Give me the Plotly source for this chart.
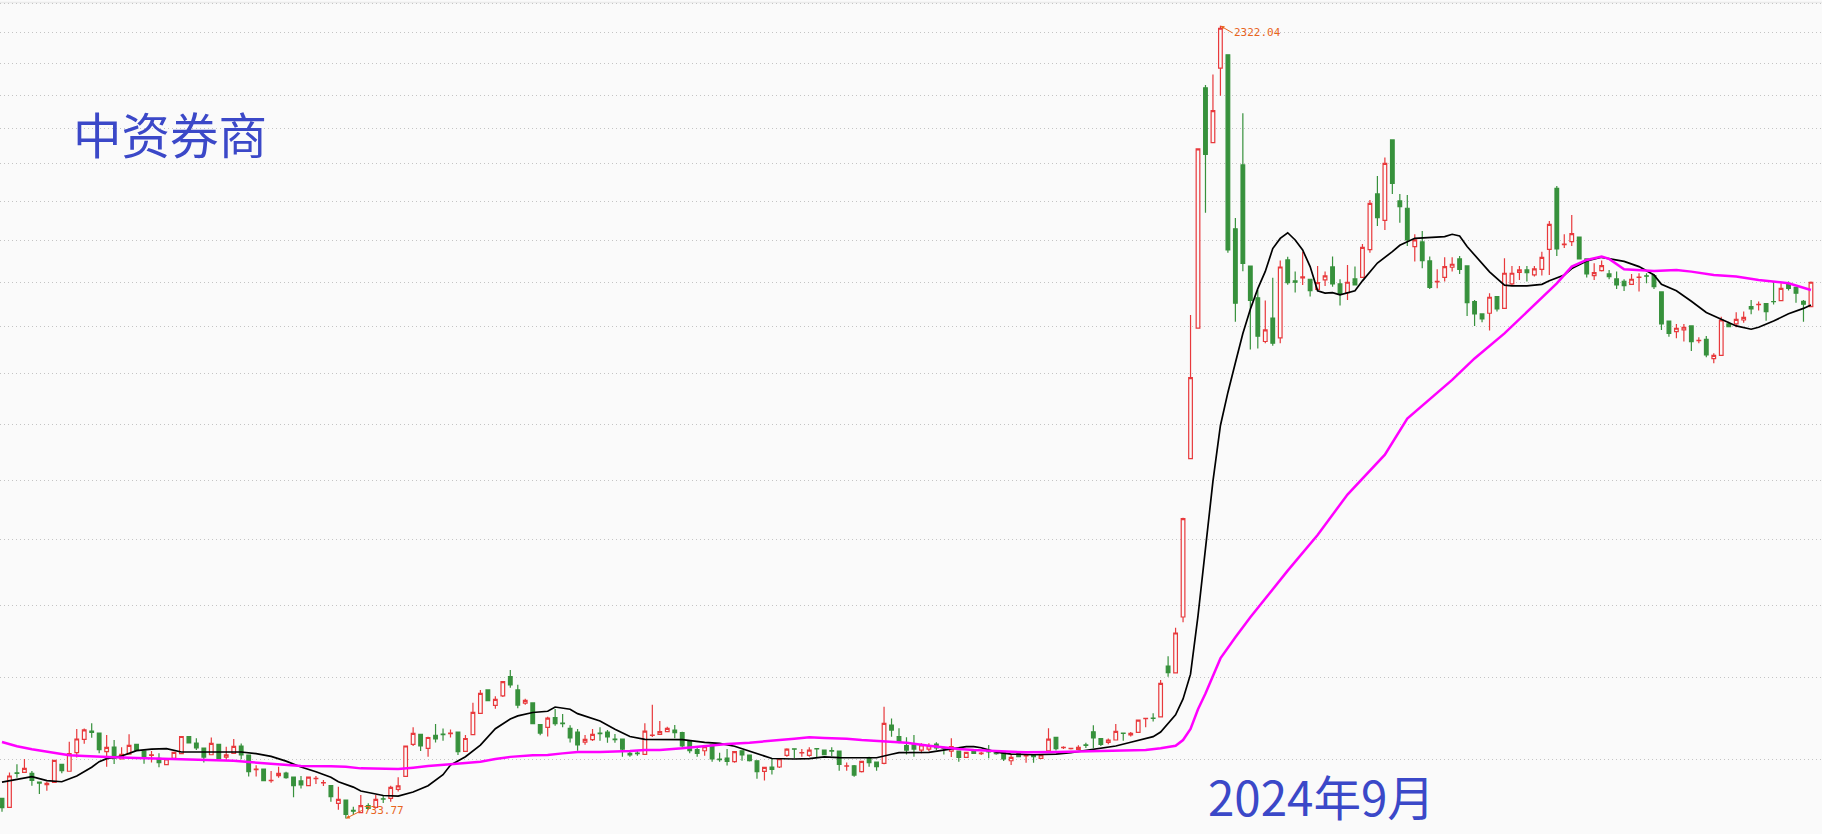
import math
import plotly.graph_objects as go

# ---- data ----
opens = [755.5,745.8,784.2,784.6,783.5,773.7,770.7,773.3,793.8,785.9,807.4,823.2,833.1,830.8,808.6,814.1,800.0,805.8,817.3,809.4,
804.3,800.8,793.4,800.8,806.2,826.6,818.7,812.9,805.0,817.3,802.3,806.6,815.3,804.7,787.7,788.5,775.3,780.9,783.9,779.3,
774.9,769.6,777.5,772.7,769.6,750.1,753.7,742.5,740.0,747.6,745.8,755.1,755.5,765.5,780.1,817.3,829.2,812.5,828.0,829.6,
830.0,831.9,809.0,828.8,854.9,884.5,864.9,876.9,901.8,884.5,867.7,868.0,840.9,837.7,849.5,842.9,836.5,831.9,819.9,822.8,
830.6,831.9,823.4,823.6,806.6,806.8,805.4,827.8,829.2,832.4,834.4,831.2,821.6,810.9,809.7,816.5,799.8,801.2,796.9,809.7,
804.7,798.0,785.8,790.8,790.8,804.3,811.9,807.2,804.3,812.3,810.5,809.9,809.3,791.7,792.2,785.4,801.5,796.5,795.0,840.5,
826.4,815.7,816.5,810.5,811.7,817.6,812.9,809.3,809.3,801.9,809.3,806.4,808.8,806.8,807.4,798.0,806.2,803.7,804.7,800.8,
809.5,825.5,813.3,812.1,811.3,816.5,832.3,824.2,819.5,822.4,830.6,828.4,831.5,848.4,849.0,850.6,915.8,906.7,983.4,1238.0,
1496.4,2122.0,1959.7,2183.8,2226.5,1729.0,1897.2,1637.9,1563.8,1467.7,1518.6,1475.6,1652.4,1602.8,1609.8,1606.7,1583.4,1605.1,1635.7,1595.7,
1575.8,1607.5,1611.3,1677.4,1818.7,1750.4,1967.2,1800.3,1781.3,1684.8,1696.2,1650.0,1600.4,1611.3,1634.9,1654.8,1638.1,1555.3,1527.7,1529.2,
1566.7,1540.3,1595.7,1623.0,1628.5,1616.8,1630.1,1678.2,1833.7,1689.5,1697.0,1708.5,1654.8,1615.2,1626.9,1619.1,1607.5,1602.0,1594.9,1611.0,
1614.8,1615.2,1577.3,1512.1,1488.9,1492.6,1501.3,1469.6,1472.4,1431.7,1438.6,1505.6,1505.6,1514.3,1544.1,1548.3,1550.8,1555.6,1557.6,1595.7,
1588.0,1556.0,1544.1]
highs = [756.0,784.6,793.8,800.0,786.2,774.0,774.1,798.5,793.8,820.4,835.7,836.2,842.6,830.8,828.4,822.4,813.7,829.2,817.3,809.4,
809.4,806.6,800.0,807.8,826.6,826.6,824.6,812.9,825.4,817.3,814.5,823.6,818.3,804.7,792.7,788.5,786.2,791.1,785.4,779.3,
780.5,779.3,780.5,776.0,769.6,768.5,753.7,746.5,759.3,750.1,759.3,758.9,769.6,779.0,815.3,837.7,829.2,826.2,841.8,836.2,
835.0,831.9,828.4,868.2,884.5,884.5,876.5,895.2,910.5,891.3,873.3,868.0,840.9,850.6,860.2,854.1,840.1,835.7,828.4,835.7,
837.7,834.5,829.6,823.6,810.5,810.5,842.6,865.7,845.4,838.5,840.5,832.4,821.6,815.3,816.5,816.5,807.4,811.7,808.6,809.7,
804.7,798.0,790.4,800.8,800.4,812.5,811.9,811.7,813.7,812.5,810.5,813.7,809.3,796.1,793.0,798.0,802.7,797.0,863.2,848.6,
836.5,825.6,828.4,818.4,818.4,819.6,814.5,824.4,809.3,807.8,809.3,808.6,816.5,808.0,807.4,805.8,806.2,806.0,804.7,804.7,
836.7,826.0,814.9,813.0,816.1,819.1,840.1,824.2,824.2,841.8,831.1,832.0,846.6,848.8,854.9,897.4,929.0,968.2,1136.0,1525.6,
1942.0,2130.6,2163.6,2322.04,2226.5,1756.0,2045.0,1638.0,1582.0,1557.9,1610.3,1650.8,1660.0,1624.6,1672.5,1606.7,1638.1,1624.6,1660.4,1606.7,
1640.5,1636.5,1691.3,1802.9,1866.9,1917.4,1967.2,1818.7,1816.1,1715.2,1723.5,1660.4,1630.1,1658.8,1658.8,1662.0,1638.1,1559.0,1527.7,1574.3,
1566.7,1656.4,1638.1,1638.1,1638.1,1638.1,1672.5,1748.7,1839.9,1715.2,1764.1,1708.5,1654.8,1644.5,1650.8,1628.5,1624.6,1606.7,1619.1,1620.7,
1620.7,1619.1,1577.3,1512.1,1505.6,1505.6,1501.3,1476.7,1479.5,1442.7,1521.7,1510.7,1531.4,1532.9,1559.1,1555.3,1550.8,1601.2,1597.3,1601.2,
1589.5,1559.1,1601.2]
lows = [741.0,745.0,778.6,784.6,769.6,760.3,764.0,773.0,783.5,785.9,801.9,817.9,825.0,806.6,791.1,794.2,800.0,805.8,810.5,794.6,
796.1,790.4,793.4,800.8,806.2,819.1,810.5,796.1,805.0,800.8,798.8,806.6,799.6,779.8,779.8,775.2,772.9,778.6,777.5,756.7,
766.4,769.6,771.5,769.3,751.9,743.0,733.77,737.6,740.0,743.0,745.8,750.4,751.9,763.0,780.0,815.3,809.4,802.7,819.5,821.6,
825.4,804.7,809.0,828.8,854.9,870.7,860.6,875.6,887.4,861.4,865.8,842.2,828.0,826.6,839.7,837.7,819.5,809.7,816.9,821.2,
821.6,819.1,819.1,802.7,802.7,803.9,805.0,826.0,829.0,831.6,824.4,812.5,806.6,802.7,803.9,796.9,796.9,792.6,795.7,798.0,
797.0,777.3,775.3,782.3,789.6,802.7,800.8,802.7,802.7,802.0,804.3,803.5,786.5,786.5,779.7,784.6,791.1,786.5,793.8,826.4,
818.4,805.4,802.7,806.6,809.0,810.5,805.4,802.3,796.9,801.9,806.0,804.7,800.8,805.0,797.7,793.0,802.7,795.7,795.7,800.8,
809.0,810.0,811.7,811.0,811.0,812.9,812.5,815.3,817.3,822.4,821.6,826.6,831.5,837.7,844.8,850.6,901.7,906.7,975.8,1238.0,
1496.0,1769.5,1959.7,2098.0,1670.0,1510.4,1625.4,1450.7,1453.0,1464.2,1458.8,1464.2,1594.0,1575.8,1593.4,1566.7,1583.0,1591.1,1589.5,1546.3,
1559.1,1593.0,1611.0,1670.0,1736.1,1726.0,1818.7,1744.5,1686.4,1648.5,1632.5,1584.2,1585.7,1601.2,1624.6,1619.1,1523.2,1501.3,1509.2,1491.1,
1532.9,1540.0,1591.1,1605.1,1601.2,1612.9,1615.2,1616.8,1662.0,1681.5,1686.4,1654.8,1610.5,1605.1,1624.6,1606.7,1584.2,1579.6,1593.4,1578.1,
1597.3,1584.2,1492.6,1478.1,1474.6,1467.5,1447.7,1464.0,1434.4,1422.0,1438.6,1498.4,1498.4,1508.5,1527.0,1535.2,1512.9,1548.9,1557.6,1580.4,
1553.0,1510.7,1544.1]
closes = [745.4,780.5,783.5,789.2,775.6,772.5,772.2,798.5,786.6,806.2,823.6,834.5,831.5,810.9,813.7,800.8,805.4,816.1,810.5,802.3,
805.0,795.7,800.0,807.8,826.6,819.1,812.9,802.3,818.3,800.8,805.0,814.9,804.7,785.4,788.5,775.2,775.5,783.5,778.6,769.6,
770.4,779.3,777.9,773.0,757.4,754.4,738.2,741.5,747.6,744.7,754.4,754.7,767.8,769.3,815.3,830.4,815.3,825.4,823.6,828.8,
830.6,808.6,824.2,856.1,880.2,870.7,872.4,895.2,890.9,865.3,871.1,842.2,830.8,849.1,842.2,842.2,825.0,816.5,823.2,829.2,
830.0,826.2,822.8,811.7,804.7,806.3,833.1,828.4,832.4,836.5,831.2,815.3,809.7,806.6,814.5,800.0,799.4,797.3,808.6,804.7,
798.0,785.4,790.4,788.0,800.4,811.7,811.5,807.6,810.5,811.9,805.0,809.3,793.8,792.1,781.6,797.3,795.7,791.1,842.6,834.4,
820.4,810.5,811.7,816.5,815.7,812.9,812.5,814.5,801.9,807.8,806.6,806.8,808.4,806.4,800.0,802.0,802.7,804.1,802.7,804.7,
823.4,812.0,813.7,812.5,813.7,816.1,825.0,817.3,822.4,832.7,830.2,830.4,846.6,848.8,848.5,893.1,906.9,960.8,1134.6,1392.5,
1941.9,1926.7,2053.0,2314.0,1676.5,1551.8,1644.4,1557.9,1479.0,1492.9,1464.2,1635.5,1598.9,1599.7,1612.1,1580.4,1598.9,1614.5,1595.7,1572.0,
1599.7,1593.4,1683.1,1794.1,1757.2,1901.6,1847.1,1785.5,1701.1,1701.1,1650.8,1588.0,1602.0,1636.5,1642.1,1630.1,1553.0,1527.7,1516.5,1565.2,
1538.9,1620.7,1620.7,1628.5,1622.3,1630.9,1658.8,1740.3,1679.0,1691.1,1716.9,1654.8,1619.1,1622.3,1638.9,1612.9,1593.4,1591.9,1606.7,1611.6,
1614.0,1589.5,1505.6,1485.3,1496.2,1498.4,1467.5,1470.4,1439.3,1438.6,1514.3,1499.8,1515.8,1520.2,1538.9,1549.3,1532.9,1555.0,1585.7,1585.7,
1574.3,1549.3,1599.7]
days = list(range(len(closes)))

# short moving average (black), read at candle positions
ma_short_x = [0,2,4,6,8,10,12,13,14,16,18,20,22,24,28,32,34,36,38,40,42,44,45,47,48,51,53,55,57,59,60,62,64,66,68,69,71,73,74,76,77,80,82,84,86,88,
              91,94,96,98,100,102,103,106,108,110,112,115,117,119,120,124,125,127,129,130,131,133,135,138,141,143,146,149,151,154,155,157,158,159,160,
              161,162,163,164,165,166,167,168,169,170,171,172,173,174,175,176,177,178,179,181,182,183,184,186,187,189,191,193,194,195,196,198,199,201,
              202,204,206,207,209,210,212,214,216,217,219,221,222,224,226,228,230,232,234,235,237,239,241,242]
ma_short = [773.5,777.0,779.8,775.2,774.0,780.5,790.5,796.9,800.5,803.5,809.8,811.6,812.1,808.2,808.2,808.2,806.2,803.0,797.5,790.8,785.4,779.0,774.0,768.0,763.6,758.7,758.0,762.5,769.5,782.0,793.0,802.7,816.3,836.0,848.0,851.7,856.0,857.5,862.8,860.0,854.5,845.5,835.5,826.6,823.2,823.2,
            822.8,819.5,818.4,815.0,809.5,803.7,800.6,800.0,800.4,802.5,801.6,801.5,801.5,805.6,807.4,807.8,809.0,811.6,814.5,814.5,813.2,808.0,805.8,805.0,805.8,807.5,811.3,815.3,819.7,826.4,832.0,853.0,873.0,905.0,985.0,
            1092.0,1198.0,1299.0,1363.0,1423.0,1485.0,1538.0,1585.0,1625.0,1680.0,1705.0,1719.0,1701.0,1676.6,1636.5,1580.0,1574.5,1575.8,1570.5,1580.0,1603.0,1624.6,1645.0,1672.5,1688.0,1705.2,1707.7,1709.3,1715.2,1711.0,1685.0,1644.5,1624.0,1593.0,
            1591.1,1591.1,1594.9,1603.0,1616.8,1632.0,1650.0,1658.8,1652.4,1649.0,1636.5,1616.8,1595.0,1580.0,1556.0,1531.0,1515.8,1501.3,1494.1,1498.5,1512.0,1528.0,1540.0,1547.8]

# long moving average (magenta)
ma_long_x = [0,2,4,6,9,11,13,15,18,22,26,31,33,35,38,40,44,46,48,53,55,57,60,62,64,66,68,71,73,75,77,80,82,84,86,88,91,94,97,100,102,104,106,108,110,113,115,117,119,121,
             124,126,128,130,133,135,137,141,145,150,153,155,157,158,159,160,161,163,165,167,169,171,172,176,180,185,188,194,197,201,205,208,210,212,214,215,217,221,224,226,229,232,235,239,242]
ma_long = [820.0,815.0,811.5,808.5,804.5,803.5,803.1,802.0,801.2,800.4,799.6,798.1,796.5,795.4,793.4,791.9,791.5,791.1,789.2,788.4,790.0,791.9,793.8,795.7,796.9,800.0,802.5,804.3,804.7,806.6,808.2,808.2,808.6,809.4,810.5,810.7,812.5,815.3,817.6,819.2,821.2,822.4,824.0,825.6,824.8,824.0,822.4,821.2,820.8,819.2,
           815.7,813.3,811.7,810.5,809.3,808.6,807.8,808.2,809.0,810.5,810.5,812.5,815.5,822.4,835.7,860.0,880.0,926.0,955.0,983.0,1010.0,1038.0,1052.0,1108.0,1175.0,1245.0,1312.0,1388.0,1432.0,1485.0,1548.0,1597.0,1636.5,1652.4,1660.4,1655.0,1630.0,1626.2,1628.5,1624.6,1616.8,1612.9,1605.1,1597.3,1581.9]

grid_values = list(range(700, 2500, 100))
title_text = "中资券商"
date_text = "2024年9月"
high_label = "2322.04"
low_label = "733.77"
high_day = 163
low_day = 46
high_value = 2322.04
low_value = 733.77

RED = "#e8393c"
GREEN = "#37913c"
BG = "#fafafa"
BLUE = "#3b48c8"
ORANGE = "#e8651e"

fig = go.Figure()
fig.add_trace(go.Candlestick(
    x=days, open=opens, high=highs, low=lows, close=closes,
    increasing=dict(line=dict(color=RED, width=1.2), fillcolor=BG),
    decreasing=dict(line=dict(color=GREEN, width=1.2), fillcolor=GREEN),
    whiskerwidth=0, showlegend=False, hoverinfo="skip"))
fig.add_trace(go.Scatter(x=ma_short_x, y=ma_short, mode="lines",
                         line=dict(color="#000000", width=1.7), showlegend=False, hoverinfo="skip"))
fig.add_trace(go.Scatter(x=ma_long_x, y=ma_long, mode="lines",
                         line=dict(color="#ff00ff", width=2.5), showlegend=False, hoverinfo="skip"))

W, H = 1822, 834
sp = 7.475
fig.update_layout(
    width=W, height=H, margin=dict(l=0, r=0, t=0, b=0),
    paper_bgcolor=BG, plot_bgcolor=BG,
    xaxis=dict(range=[-2 / sp, (W - 2) / sp], showgrid=False, zeroline=False,
               showticklabels=False, ticks="", rangeslider=dict(visible=False), fixedrange=True),
    yaxis=dict(type="log", range=[2.85576, 3.38220], tickvals=grid_values,
               showticklabels=False, ticks="", showgrid=True, gridcolor="#c4c4c4",
               griddash="1px,3px", gridwidth=1, zeroline=False, fixedrange=True),
    shapes=[dict(type="line", xref="paper", yref="paper", x0=0, x1=1, y0=1 - 2.5 / H, y1=1 - 2.5 / H,
                 line=dict(color="#ebebeb", width=1.5), layer="below")],
    annotations=[
        dict(text=title_text, xref="paper", yref="paper", x=170 / W, y=1 - 133 / H,
             xanchor="center", yanchor="middle", showarrow=False,
             font=dict(family="Noto Sans CJK SC", size=48.5, color=BLUE)),
        dict(text=date_text, xref="paper", yref="paper", x=1321 / W, y=1 - 795 / H,
             xanchor="center", yanchor="middle", showarrow=False,
             font=dict(family="Noto Sans CJK SC", size=47.5, color=BLUE)),
        dict(text=high_label, x=high_day, y=math.log10(high_value), xref="x", yref="y",
             ax=12, ay=7, axref="pixel", ayref="pixel", xanchor="left", yanchor="middle",
             showarrow=True, arrowhead=2, arrowsize=0.8, arrowwidth=1, arrowcolor=ORANGE,
             font=dict(family="DejaVu Sans Mono", size=11, color=ORANGE)),
        dict(text=low_label, x=low_day, y=math.log10(low_value), xref="x", yref="y",
             ax=16, ay=-8, axref="pixel", ayref="pixel", xanchor="left", yanchor="middle",
             showarrow=True, arrowhead=2, arrowsize=0.8, arrowwidth=1, arrowcolor=ORANGE,
             font=dict(family="DejaVu Sans Mono", size=11, color=ORANGE)),
    ],
)
fig.write_html(
    "out.html",
    config={"displayModeBar": False, "staticPlot": True},
    post_script="document.body.style.margin='0px';document.body.style.padding='0px';"
                "document.body.style.background='#fafafa';document.documentElement.style.overflow='hidden';",
)
